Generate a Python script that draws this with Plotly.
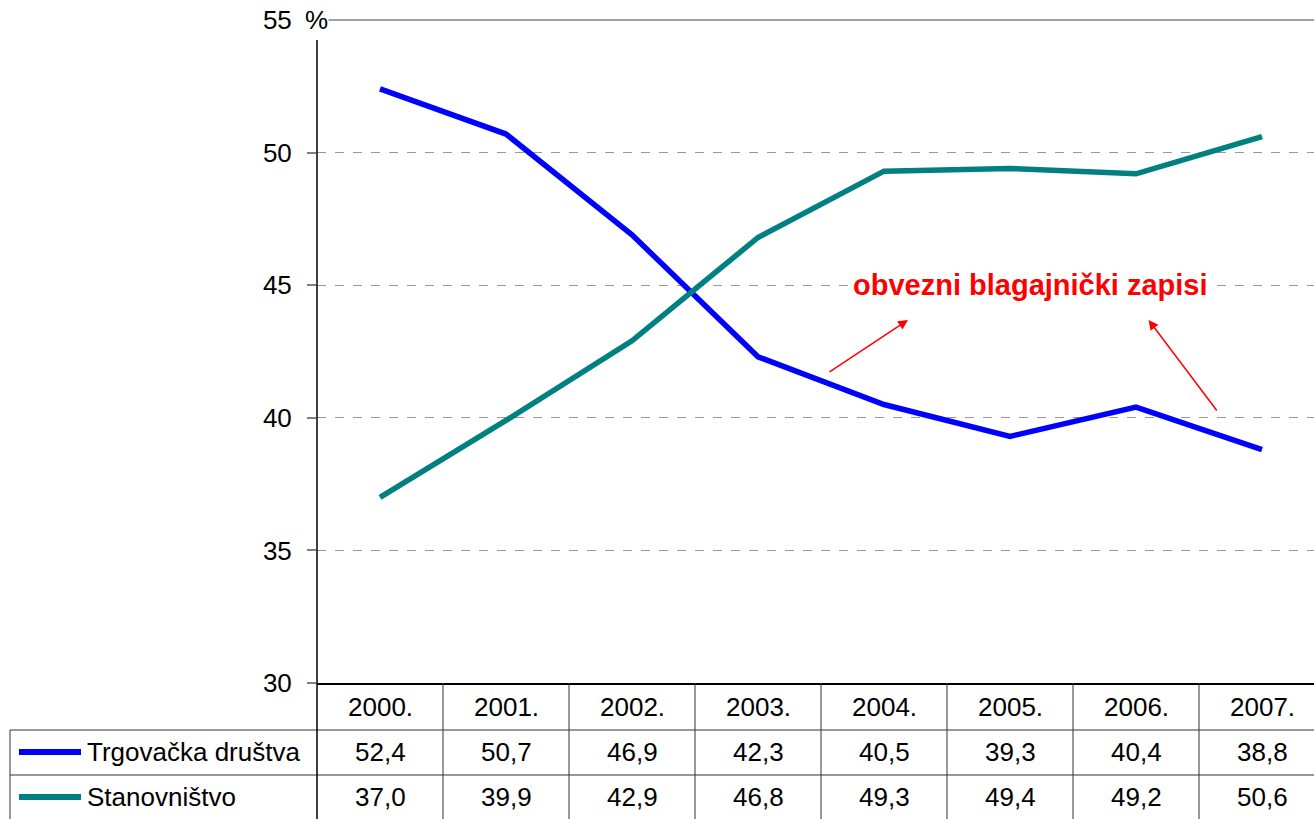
import plotly.graph_objects as go

# ── PODACI ───────────────────────────────────────────────────────────────────
godine = ["2000.", "2001.", "2002.", "2003.", "2004.", "2005.", "2006.", "2007."]
trgovacka = [52.4, 50.7, 46.9, 42.3, 40.5, 39.3, 40.4, 38.8]
stanovnistvo = [37.0, 39.9, 42.9, 46.8, 49.3, 49.4, 49.2, 50.6]
serije = [("Trgovačka društva", trgovacka, "#0000FF"),
          ("Stanovništvo", stanovnistvo, "#008080")]
y_tickovi = [30, 35, 40, 45, 50, 55]
y_labele = ["30", "35", "40", "45", "50", "55"]

W, H = 1314, 819
L, T, B = 317, 20, 136
PH = H - T - B
PW = W - L
FONT = "Liberation Sans, Arial, sans-serif"
FS = 26


def py(pix):
    """piksel (od vrha) -> paper y"""
    return (H - B - pix) / PH


def px(pix):
    """piksel (od lijeva) -> paper x"""
    return (pix - L) / PW


x = list(range(len(godine)))
fig = go.Figure()
for ime, vals, boja in serije:
    fig.add_trace(go.Scatter(
        x=x, y=vals, mode="lines", name=ime,
        line=dict(color=boja, width=5.5), showlegend=False,
    ))

shapes = []
LC = "#333333"
# tablica - horizontalne linije
for yy, x0 in [(730, 10), (775, 10)]:
    shapes.append(dict(type="line", xref="paper", yref="paper",
                       x0=px(x0), x1=1, y0=py(yy), y1=py(yy),
                       line=dict(color=LC, width=1)))
# vertikalne linije između godina
for i in range(len(godine)):
    shapes.append(dict(type="line", xref="x", yref="paper",
                       x0=i + 0.5, x1=i + 0.5, y0=0, y1=py(819),
                       line=dict(color=LC, width=1)))
# lijevi rub tablice
shapes.append(dict(type="line", xref="paper", yref="paper",
                   x0=px(10), x1=px(10), y0=py(730), y1=py(819),
                   line=dict(color=LC, width=1)))
# y os
shapes.append(dict(type="line", xref="paper", yref="paper",
                   x0=0, x1=0, y0=py(819), y1=py(40),
                   line=dict(color="#000000", width=1.5)))
# gornja linija (55)
shapes.append(dict(type="line", xref="paper", yref="paper",
                   x0=px(327), x1=1, y0=1, y1=1,
                   line=dict(color="#808080", width=1.5)))
# legenda
for (ime, vals, boja), yy in zip(serije, [752, 797]):
    shapes.append(dict(type="line", xref="paper", yref="paper",
                       x0=px(19), x1=px(81), y0=py(yy), y1=py(yy),
                       line=dict(color=boja, width=6)))

ann = []
for i, g in enumerate(godine):
    ann.append(dict(x=i, y=py(707), xref="x", yref="paper", text=g,
                    yanchor="middle", showarrow=False,
                    font=dict(size=FS, color="black")))
for (ime, vals, boja), yy in zip(serije, [752, 797]):
    ann.append(dict(x=px(85), y=py(yy), xref="paper", yref="paper", text=ime,
                    xanchor="left", yanchor="middle", showarrow=False,
                    font=dict(size=FS, color="black")))
    for i, v in enumerate(vals):
        ann.append(dict(x=i, y=py(yy), xref="x", yref="paper",
                        text=f"{v:.1f}".replace(".", ","), yanchor="middle",
                        showarrow=False, font=dict(size=FS, color="black")))

# "%" uz 55
ann.append(dict(x=px(304), y=1, xref="paper", yref="paper", text="%",
                xanchor="left", yanchor="middle", showarrow=False,
                bgcolor="white", borderpad=0,
                font=dict(size=FS, color="black")))

# natpis i strelice
ann.append(dict(x=5.16, y=45.0, xref="x", yref="y",
                text="<b>obvezni blagajnički zapisi</b>", showarrow=False,
                bgcolor="white", font=dict(size=29, color="#FF0000")))
for (x0, y0, x1, y1) in [(3.556, 41.69, 4.19, 43.69), (6.65, 40.22, 6.10, 43.69)]:
    ann.append(dict(x=x1, y=y1, ax=x0, ay=y0, xref="x", yref="y",
                    axref="x", ayref="y", text="", showarrow=True,
                    arrowhead=2, arrowsize=1.3, arrowwidth=1.5,
                    arrowcolor="#FF0000"))

fig.update_layout(
    width=W, height=H,
    margin=dict(l=L, r=0, t=T, b=B),
    plot_bgcolor="white", paper_bgcolor="white",
    font=dict(family=FONT, size=FS, color="black"),
    shapes=shapes, annotations=ann,
    xaxis=dict(range=[-0.5, 7.5 - 11 / 126], showgrid=False, zeroline=False,
               showticklabels=False, ticks="", showline=True,
               linecolor="black", linewidth=2),
    yaxis=dict(range=[30, 55], tickvals=y_tickovi, ticktext=y_labele,
               showgrid=True, gridcolor="#9a9a9a", griddash="dash", gridwidth=1,
               zeroline=False, showline=False, ticks="outside", ticklen=9,
               tickcolor="#808080", tickwidth=1.5, ticklabelstandoff=10,
               tickfont=dict(size=FS)),
)

fig.write_html("out.html", config={"displayModeBar": False},
               post_script="document.body.style.margin='0';")
